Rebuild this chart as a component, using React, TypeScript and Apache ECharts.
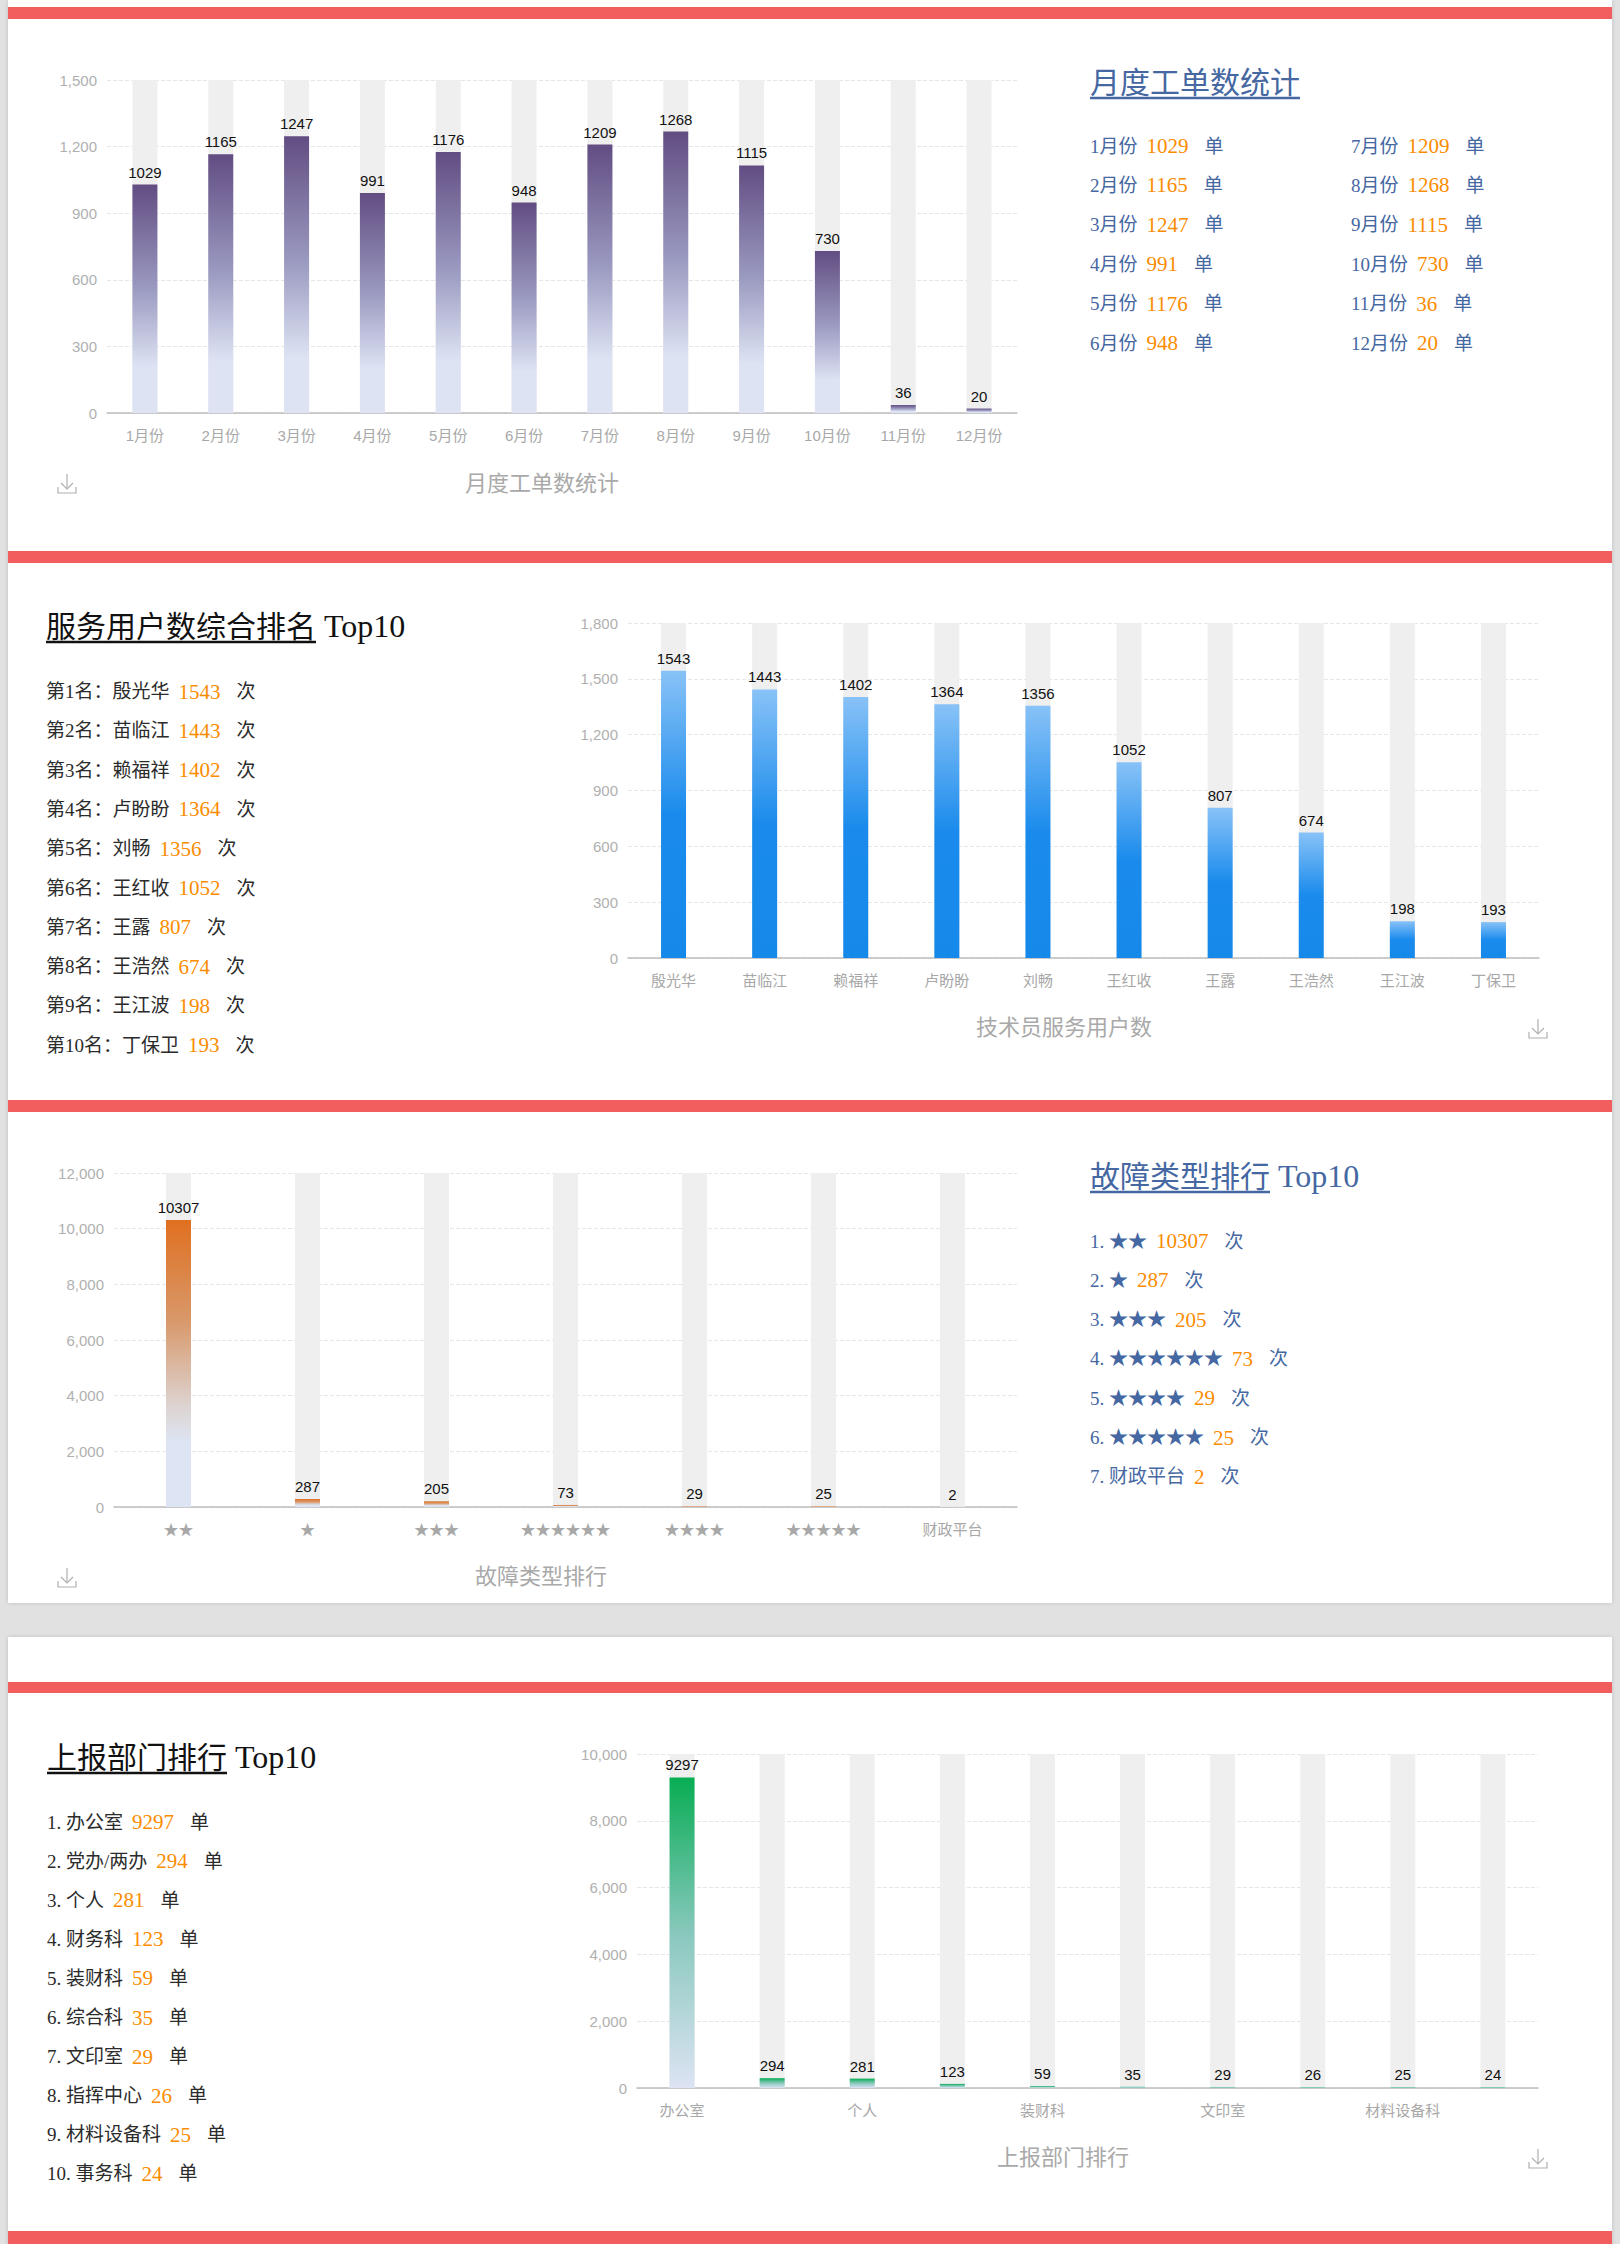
import React, { useEffect, useRef } from 'react';
import * as echarts from 'echarts';

// ---------- data ----------
const months = ['1月份', '2月份', '3月份', '4月份', '5月份', '6月份', '7月份', '8月份', '9月份', '10月份', '11月份', '12月份'];
const monthValues = [1029, 1165, 1247, 991, 1176, 948, 1209, 1268, 1115, 730, 36, 20];

const techNames = ['殷光华', '苗临江', '赖福祥', '卢盼盼', '刘畅', '王红收', '王露', '王浩然', '王江波', '丁保卫'];
const techValues = [1543, 1443, 1402, 1364, 1356, 1052, 807, 674, 198, 193];

const faultTypes = ['★★', '★', '★★★', '★★★★★★', '★★★★', '★★★★★', '财政平台'];
const faultValues = [10307, 287, 205, 73, 29, 25, 2];

const depts = ['办公室', '党办/两办', '个人', '财务科', '装财科', '综合科', '文印室', '指挥中心', '材料设备科', '事务科'];
const deptValues = [9297, 294, 281, 123, 59, 35, 29, 26, 25, 24];

const chartTitles = ['月度工单数统计', '技术员服务用户数', '故障类型排行', '上报部门排行'];
const listTitles = ['月度工单数统计', '服务用户数综合排名', '故障类型排行', '上报部门排行'];
const yMax = [1500, 1800, 12000, 10000];
const yInterval = [300, 300, 2000, 2000];

// ---------- styles ----------
const SERIF = '"Liberation Serif", "Noto Sans CJK SC", serif';
const SANS = '"Liberation Sans", "Noto Sans CJK SC", sans-serif';
const BLUE = '#4567a2';
const ORANGE = '#fb8c00';
const DARK = '#2b2b2b';
const RED = '#f25e5e';

const grad = (stops: [number, string][]) =>
  new echarts.graphic.LinearGradient(0, 0, 0, 1, stops.map(([offset, color]) => ({ offset, color })));

const gradients = [
  grad([[0, '#624d82'], [0.45, '#9a99c0'], [0.8, '#dde3f3'], [1, '#dde3f3']]),
  grad([[0, '#88c2f7'], [0.5, '#1a8bec'], [1, '#1589ea']]),
  grad([[0, '#e07020'], [0.35, '#d8986a'], [0.65, '#ddd4d2'], [0.78, '#dde5f4'], [1, '#dde5f4']]),
  grad([[0, '#08ad54'], [0.5, '#88c8bd'], [1, '#dde3f3']]),
];

const grids = [
  { left: 107, top: 80, width: 910, height: 333 },
  { left: 628, top: 623, width: 911, height: 335 },
  { left: 114, top: 1173, width: 903, height: 334 },
  { left: 637, top: 1754, width: 901, height: 334 },
];

const cats = [months, techNames, faultTypes, depts];
const vals = [monthValues, techValues, faultValues, deptValues];

function downloadIcon(x: number, y: number) {
  const st = { stroke: '#b0b0b0', lineWidth: 1.2, fill: 'none' };
  return [
    { type: 'polyline', shape: { points: [[x, y - 10], [x, y + 5]] }, style: st },
    { type: 'polyline', shape: { points: [[x - 6, y - 1], [x, y + 5], [x + 6, y - 1]] }, style: st },
    { type: 'polyline', shape: { points: [[x - 9, y + 3], [x - 9, y + 9], [x + 9, y + 9], [x + 9, y + 3]] }, style: st },
  ];
}

function rowText(x: number, y: number, label: string, value: number, unit: string, labelColor: string) {
  return {
    type: 'text',
    x,
    y,
    style: {
      text: `{a|${label}}{b|${value}}{a|${unit}}`,
      verticalAlign: 'middle',
      rich: {
        a: { fontSize: 19, fontFamily: SERIF, fill: labelColor, color: labelColor },
        b: { fontSize: 21, fontFamily: SERIF, fill: ORANGE, color: ORANGE, padding: [0, 16, 0, 9] },
      },
    },
  };
}

function listTitle(x: number, y: number, cn: string, suffix: string, color: string) {
  return [
    {
      type: 'text',
      x,
      y,
      style: {
        text: suffix ? `{a|${cn}}{b|${suffix}}` : `{a|${cn}}`,
        verticalAlign: 'middle',
        rich: {
          a: { fontSize: 30, fontFamily: SERIF, fill: color, color },
          b: { fontSize: 32, fontFamily: SERIF, fill: color, color, padding: [0, 0, 0, 8] },
        },
      },
    },
    {
      type: 'line',
      shape: { x1: x, y1: y + 16, x2: x + cn.length * 30, y2: y + 16 },
      style: { stroke: color, lineWidth: 2.5 },
    },
  ];
}

function subTitle(x: number, y: number, text: string) {
  return {
    type: 'text',
    x,
    y,
    style: { text, fontSize: 22, fontFamily: SANS, fill: '#a9a9a9', align: 'center', verticalAlign: 'middle' },
  };
}

export default function App() {
  const ref = useRef<HTMLDivElement>(null);

  useEffect(() => {
    if (!ref.current) return;
    const chart = echarts.init(ref.current, undefined, { renderer: 'svg' });

    const xAxis = cats.map((c, i) => ({
      type: 'category',
      gridIndex: i,
      data: c,
      axisLine: { lineStyle: { color: '#bdbdbd', width: 1.5 } },
      axisTick: { lineStyle: { color: '#bdbdbd' }, length: 5 },
      axisLabel: { color: '#a8a8a8', fontSize: 15, fontFamily: SANS, margin: 15 },
    }));
    const yAxis = cats.map((_, i) => ({
      type: 'value',
      gridIndex: i,
      min: 0,
      max: yMax[i],
      interval: yInterval[i],
      axisLine: { show: false },
      axisTick: { show: false },
      axisLabel: { color: '#b0b0b0', fontSize: 15, fontFamily: SANS, margin: 10 },
      splitLine: { lineStyle: { color: '#e6e6e6', type: 'dashed' } },
    }));
    const series = vals.map((v, i) => ({
      type: 'bar',
      xAxisIndex: i,
      yAxisIndex: i,
      data: v,
      barWidth: 25,
      showBackground: true,
      backgroundStyle: { color: '#efefef' },
      itemStyle: { color: gradients[i] },
      label: { show: true, position: 'top', color: '#111', fontSize: 15, fontFamily: SANS, distance: 5 },
    }));

    const g: any[] = [];
    // page backgrounds
    g.push({ type: 'rect', z: -10, shape: { x: 0, y: 0, width: 1620, height: 2244 }, style: { fill: '#e1e1e1' } });
    g.push({
      type: 'rect', z: -9, shape: { x: 8, y: 0, width: 1604, height: 1603 },
      style: { fill: '#ffffff', shadowBlur: 4, shadowColor: 'rgba(0,0,0,0.15)' },
    });
    g.push({
      type: 'rect', z: -9, shape: { x: 8, y: 1637, width: 1604, height: 620 },
      style: { fill: '#ffffff', shadowBlur: 4, shadowColor: 'rgba(0,0,0,0.15)' },
    });
    [[7, 12], [551, 12], [1100, 12], [1682, 11], [2231, 13]].forEach(([y, h]) =>
      g.push({ type: 'rect', z: -8, shape: { x: 8, y, width: 1604, height: h }, style: { fill: RED } })
    );

    // section 1 list
    g.push(...listTitle(1090, 82, listTitles[0], '', BLUE));
    months.forEach((m, i) => {
      const col = i < 6 ? 0 : 1;
      const r = i % 6;
      g.push(rowText(col === 0 ? 1090 : 1351, 146 + r * 39.4, m, monthValues[i], '单', BLUE));
    });

    // section 2 list
    g.push(...listTitle(46, 626, listTitles[1], 'Top10', '#111111'));
    techNames.forEach((n, i) => {
      g.push(rowText(46, 691.5 + i * 39.3, `第${i + 1}名：${n}`, techValues[i], '次', DARK));
    });

    // section 3 list
    g.push(...listTitle(1090, 1176, listTitles[2], 'Top10', BLUE));
    faultTypes.forEach((f, i) => {
      g.push(rowText(1090, 1241 + i * 39.3, `${i + 1}. ${f}`, faultValues[i], '次', BLUE));
    });

    // section 4 list
    g.push(...listTitle(47, 1757, listTitles[3], 'Top10', '#111111'));
    depts.forEach((d, i) => {
      g.push(rowText(47, 1822 + i * 39.1, `${i + 1}. ${d}`, deptValues[i], '单', DARK));
    });

    // chart subtitles + icons
    g.push(subTitle(542, 483, chartTitles[0]));
    g.push(subTitle(1064, 1027, chartTitles[1]));
    g.push(subTitle(541, 1576, chartTitles[2]));
    g.push(subTitle(1063, 2157, chartTitles[3]));
    g.push(...downloadIcon(67, 484));
    g.push(...downloadIcon(1538, 1029));
    g.push(...downloadIcon(67, 1578));
    g.push(...downloadIcon(1538, 2159));

    chart.setOption({
      animation: false,
      grid: grids,
      xAxis,
      yAxis,
      series,
      graphic: { elements: g },
    });

    return () => chart.dispose();
  }, []);

  return (
    <div
      ref={ref}
      style={{ position: 'absolute', left: 0, top: 0, width: 1620, height: 2244 }}
    />
  );
}
